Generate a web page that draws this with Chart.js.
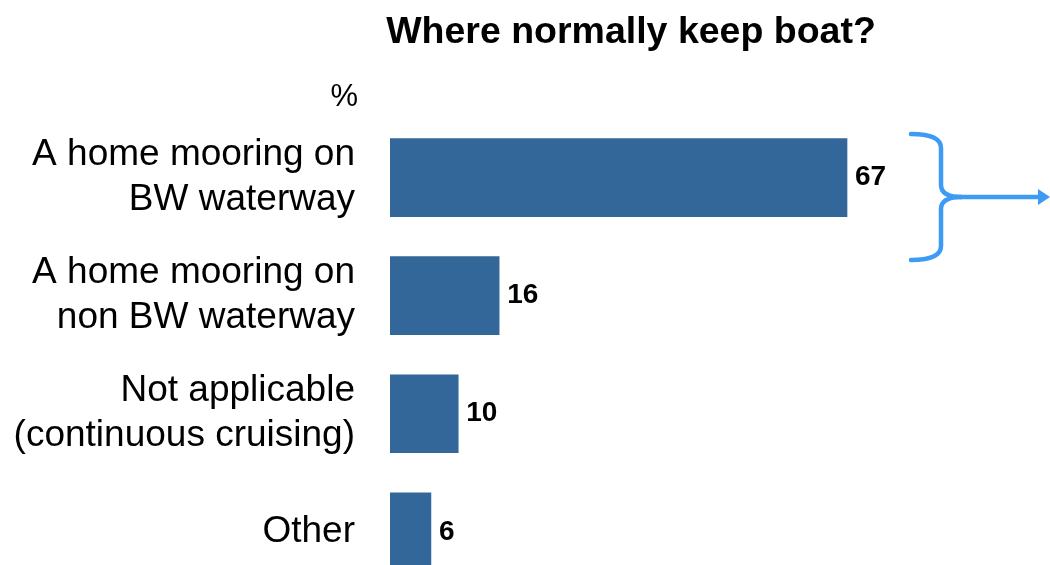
<!DOCTYPE html>
<html>
<head>
<meta charset="utf-8">
<script src="https://cdn.jsdelivr.net/npm/chart.js@4.4.1/dist/chart.umd.min.js"></script>
<style>
  html, body { margin: 0; padding: 0; background: #fff; overflow: hidden; }
  canvas { display: block; }
</style>
</head>
<body>
<canvas id="chart" width="1050" height="671"></canvas>
<script>
const categories = [
    ["A home mooring on", "BW waterway"],
    ["A home mooring on", "non BW waterway"],
    ["Not applicable", "(continuous cruising)"],
    ["Other"]
];
const values = [67, 16, 10, 6];
const titleText = "Where normally keep boat?";
const unitText = "%";

const FONT = "'Liberation Sans', Arial, sans-serif";
const BAR_COLOR = "#336699";
const BRACE_COLOR = "#3d9bf5";

// title, unit, value labels and the bracket arrow
const extras = {
    id: "extras",
    afterDatasetsDraw(chart) {
        const ctx = chart.ctx;
        ctx.save();

        ctx.fillStyle = "#000";
        ctx.textBaseline = "middle";
        ctx.textAlign = "center";
        ctx.font = "bold 37.5px " + FONT;
        ctx.fillText(titleText, 631, 33);

        ctx.textAlign = "right";
        ctx.font = "31px " + FONT;
        ctx.fillText(unitText, 358, 97);

        ctx.textAlign = "left";
        ctx.font = "bold 28px " + FONT;
        chart.getDatasetMeta(0).data.forEach((bar, i) => {
            ctx.fillText(String(values[i]), bar.x + 8, bar.y);
        });

        // bracket with arrow
        ctx.strokeStyle = BRACE_COLOR;
        ctx.fillStyle = BRACE_COLOR;
        ctx.lineWidth = 4.5;
        ctx.lineCap = "round";
        ctx.beginPath();
        ctx.moveTo(911, 134);
        ctx.quadraticCurveTo(941, 134, 941, 148);
        ctx.lineTo(941, 185);
        ctx.quadraticCurveTo(941, 197, 962, 197);
        ctx.quadraticCurveTo(941, 197, 941, 209);
        ctx.lineTo(941, 246);
        ctx.quadraticCurveTo(941, 260, 911, 260);
        ctx.stroke();

        ctx.beginPath();
        ctx.moveTo(960, 197);
        ctx.lineTo(1040, 197);
        ctx.stroke();
        ctx.beginPath();
        ctx.moveTo(1038, 189);
        ctx.lineTo(1050, 197);
        ctx.lineTo(1038, 205);
        ctx.closePath();
        ctx.fill();

        ctx.restore();
    }
};

// the y scale reserves half the top label plus tick padding (80px) below the
// chart area, so the canvas runs past the window bottom to keep the 4th bar cut off
new Chart(document.getElementById("chart"), {
    type: "bar",
    data: {
        labels: categories,
        datasets: [{
            data: values,
            backgroundColor: BAR_COLOR,
            borderWidth: 0,
            barThickness: 78
        }]
    },
    options: {
        indexAxis: "y",
        responsive: false,
        animation: false,
        layout: { padding: { top: 118.5, bottom: 0, left: 0, right: 12 } },
        scales: {
            x: { display: false, min: 0, max: 95 },
            y: {
                grid: { display: false, drawTicks: false },
                border: { display: false },
                ticks: {
                    color: "#000",
                    padding: 35,
                    font: { family: FONT, size: 37, lineHeight: 1.22 }
                },
                afterFit(scale) { scale.width = 390; }
            }
        },
        plugins: {
            legend: { display: false },
            tooltip: { enabled: false }
        }
    },
    plugins: [extras]
});
</script>
</body>
</html>
